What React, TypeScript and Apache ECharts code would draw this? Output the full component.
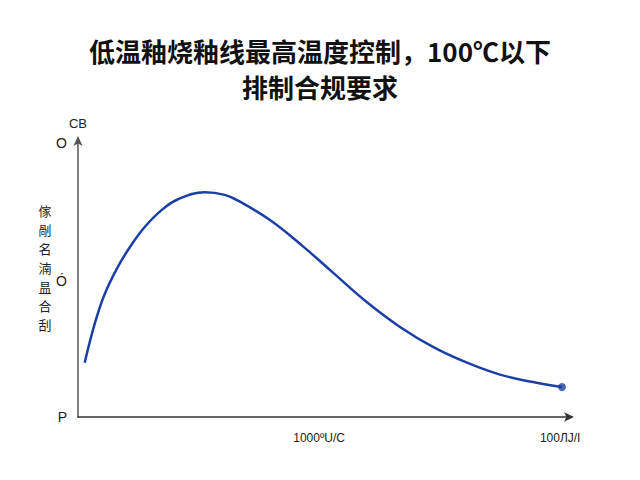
import React, { useEffect, useRef } from "react";
import * as echarts from "echarts";

const titleLines = ["低温釉烧釉线最高温度控制，100℃以下", "排制合规要求"];
const xValues = [1.36, 3.39, 5.43, 8.13, 10.83, 13.56, 16.93, 20.33, 25.75, 29.82, 32.52, 39.02, 45.73, 51.83, 58.74, 65.45, 72.15, 79.07, 85.77, 92.48, 98.37];
const yValues = [19.6, 33.6, 44.4, 54.3, 62.1, 68.6, 74.6, 78.6, 81.1, 80.2, 78.1, 71.1, 61.6, 52.1, 41.4, 32.5, 25.3, 19.6, 15.3, 12.6, 10.8];
const xTickValues = [49, 98];
const xTickLabels = ["1000ºU/C", "100ЛJ/I"];
const yTickValues = [0, 49, 99];
const yTickLabels = ["P", "Ó", "O"];
const yAxisTopName = "CB";
const yAxisSideName = ["傢", "剮", "名", "湳", "昷", "合", "刮"];

const LINE_COLOR = "#1c3fa6";

export default function App() {
  const ref = useRef<HTMLDivElement>(null);
  useEffect(() => {
    document.body.style.margin = "0";
    if (!ref.current) return;
    const chart = echarts.init(ref.current, undefined, { renderer: "svg" });
    const points = xValues.map((x, i) => [x, yValues[i]]);
    const last = points[points.length - 1];
    const sideTop = 210;
    const sideStep = 19;
    chart.setOption({
      animation: false,
      backgroundColor: "#ffffff",
      title: {
        text: titleLines.join("\n"),
        left: "center",
        top: 27,
        textStyle: {
          fontSize: 26,
          fontWeight: "bold",
          lineHeight: 36,
          color: "#111",
          fontFamily: "Noto Sans CJK SC",
        },
      },
      grid: { left: 78, right: 70, top: 140, bottom: 63 },
      xAxis: {
        type: "value",
        min: 0,
        max: 100,
        axisLine: {
          show: true,
          lineStyle: { color: "#333", width: 1.5 },
          symbol: ["none", "arrow"],
          symbolSize: [7, 10],
          symbolOffset: [0, 4],
        },
        axisTick: { show: false },
        splitLine: { show: false },
        axisLabel: {
          customValues: xTickValues,
          formatter: (v: number) => {
            const i = xTickValues.indexOf(v);
            return i >= 0 ? xTickLabels[i] : "";
          },
          color: "#222",
          fontSize: 12,
          margin: 15,
          fontFamily: "Liberation Sans",
        },
      },
      yAxis: {
        type: "value",
        min: 0,
        max: 100,
        name: yAxisTopName,
        nameLocation: "end",
        nameGap: 10,
        nameTextStyle: { color: "#222", fontSize: 13, fontFamily: "Liberation Sans" },
        axisLine: {
          show: true,
          lineStyle: { color: "#555", width: 1.5 },
          symbol: ["none", "arrow"],
          symbolSize: [7, 10],
          symbolOffset: [0, 4],
        },
        axisTick: { show: false },
        splitLine: { show: false },
        axisLabel: {
          customValues: yTickValues,
          formatter: (v: number) => {
            const i = yTickValues.indexOf(v);
            return i >= 0 ? yTickLabels[i] : "";
          },
          color: "#222",
          fontSize: 14,
          margin: 11,
          fontFamily: "Liberation Sans",
        },
      },
      graphic: yAxisSideName.map((ch, i) => ({
        type: "text",
        x: 45,
        y: sideTop + i * sideStep,
        style: {
          text: ch,
          fontSize: 13,
          lineHeight: 15,
          fill: "#222",
          align: "center",
          verticalAlign: "middle",
          fontFamily: "Noto Sans CJK SC",
        },
      })),
      series: [
        {
          type: "line",
          data: points,
          smooth: 0.4,
          showSymbol: false,
          symbol: "none",
          lineStyle: { color: LINE_COLOR, width: 2.5 },
        },
        {
          type: "scatter",
          data: [last],
          symbol: "circle",
          symbolSize: 8,
          itemStyle: { color: LINE_COLOR },
        },
      ],
    });
    return () => chart.dispose();
  }, []);
  return (
    <div
      ref={ref}
      style={{ position: "fixed", left: 0, top: 0, width: 640, height: 480 }}
    />
  );
}
